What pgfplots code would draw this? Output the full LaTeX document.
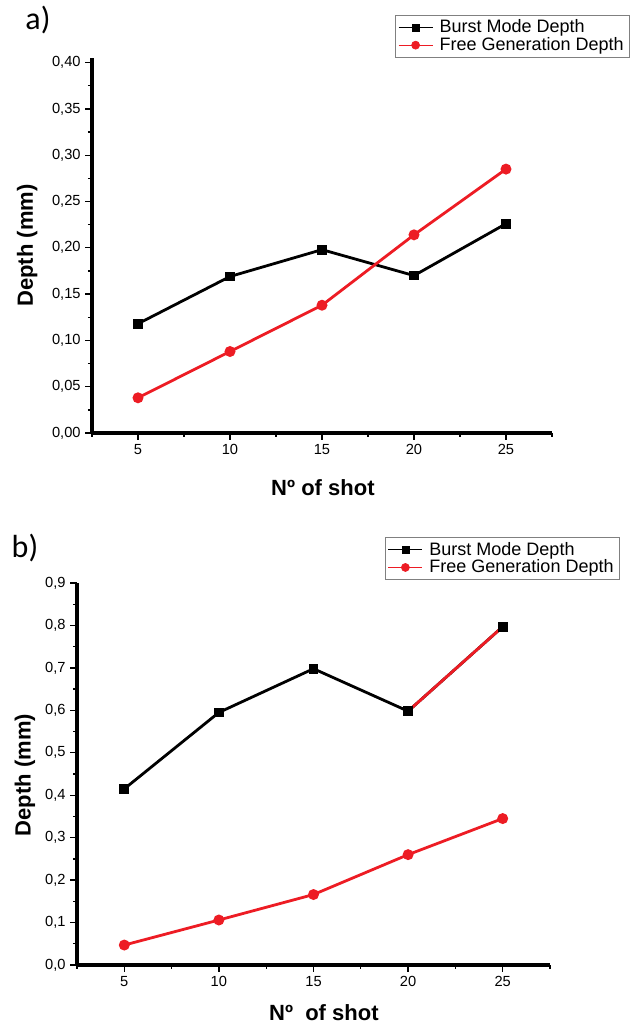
\documentclass[border=0pt]{standalone}
\usepackage{pgfplots}
\pgfplotsset{compat=1.18}
\usepackage{fontspec}
\setmainfont{Liberation Sans}
\newfontfamily\calib{Carlito}
\definecolor{dred}{RGB}{237,28,36}

\pgfplotstableread{
x y
5  0.118
10 0.169
15 0.198
20 0.170
25 0.226
}\burstA
\pgfplotstableread{
x y
5  0.038
10 0.088
15 0.138
20 0.214
25 0.285
}\freeA
\pgfplotstableread{
x y
5  0.415
10 0.595
15 0.698
20 0.598
25 0.797
}\burstB
\pgfplotstableread{
x y
5  0.047
10 0.106
15 0.166
20 0.260
25 0.345
}\freeB

\pgfplotsset{
  depthaxis/.style={
    scale only axis,
    axis lines*=left,
    axis line style={line width=2.6pt},
    tick align=outside,
    major tick length=5pt, minor tick length=3pt,
    every tick/.style={black, line width=1pt},
    xmin=2.5, xmax=27.5, ymin=0,
    xtick={5,10,15,20,25},
    minor xtick={2.5,7.5,12.5,17.5,22.5,27.5},
    tick label style={font=\fontsize{11}{13}\selectfont},
    /pgf/number format/assume math mode=true,
    /pgf/number format/use comma,
    label style={font=\fontsize{16.5}{18}\selectfont\bfseries},
    legend style={draw=gray, line width=0.6pt, font=\fontsize{13.5}{15}\selectfont,
      inner xsep=2pt, inner ysep=1.5pt, row sep=-2pt, column sep=3pt,
      anchor=north west},
    legend cell align=left,
    legend image code/.code={
      \draw[mark repeat=2,mark phase=2,##1,line width=0.5pt]
        plot coordinates {(0cm,0cm) (0.45cm,0cm) (0.9cm,0cm)};},
    clip=false,
  },
  burst/.style={black, line width=2.1pt, mark=square*, mark size=2.6pt, mark options={solid}},
  free/.style={dred, line width=2.1pt, mark=*, mark size=3pt, mark options={solid}},
}

\begin{document}
\begin{tikzpicture}
\path[use as bounding box] (0,0) rectangle (478.5pt,771pt);

% panel a
\begin{axis}[depthaxis,
  at={(69pt,446.25pt)}, anchor=south west,
  width=345pt, height=281.25pt,
  ymax=0.405,
  ytick={0,0.05,...,0.40},
  minor ytick={0.025,0.075,0.125,0.175,0.225,0.275,0.325,0.375},
  yticklabel style={/pgf/number format/.cd, fixed, fixed zerofill, precision=2},
  xlabel={Nº of shot},
  ylabel={Depth (mm)},
  xlabel style={at={(axis description cs:0.502,-0.147)}, anchor=center},
  ylabel style={at={(axis description cs:-0.141,0.5)}, anchor=center, rotate=0},
  legend style={at={(0.659,1.115)}},
]
\addplot[burst] table {\burstA};
\addlegendentry{Burst Mode Depth}
\addplot[free] table {\freeA};
\addlegendentry{Free Generation Depth}
\end{axis}

% panel b
\begin{axis}[depthaxis,
  at={(57.75pt,47.25pt)}, anchor=south west,
  width=354.75pt, height=286.5pt,
  ymax=0.9,
  ytick={0,0.1,...,0.9},
  minor ytick={0.05,0.15,0.25,0.35,0.45,0.55,0.65,0.75,0.85},
  yticklabel style={/pgf/number format/.cd, fixed, fixed zerofill, precision=1},
  xlabel={Nº\ \ of shot},
  ylabel={Depth (mm)},
  xlabel style={at={(axis description cs:0.522,-0.126)}, anchor=center},
  ylabel style={at={(axis description cs:-0.11,0.497)}, anchor=center, rotate=0},
  legend style={at={(0.651,1.12)}},
]
\addplot[burst] table {\burstB};
\addlegendentry{Burst Mode Depth}
\addplot[free] table {\freeB};
\addlegendentry{Free Generation Depth}
% the last burst segment is drawn red in the original
\addplot[dred, line width=2.1pt, forget plot] coordinates {(20,0.598) (25,0.797)};
\addplot[black, only marks, mark=square*, mark size=2.6pt, forget plot] coordinates {(20,0.598) (25,0.797)};
\end{axis}

\node[font=\calib\fontsize{24}{26}\selectfont] at (28.5pt,756pt) {a)};
\node[font=\calib\fontsize{24}{26}\selectfont] at (18.75pt,360pt) {b)};
\end{tikzpicture}
\end{document}
